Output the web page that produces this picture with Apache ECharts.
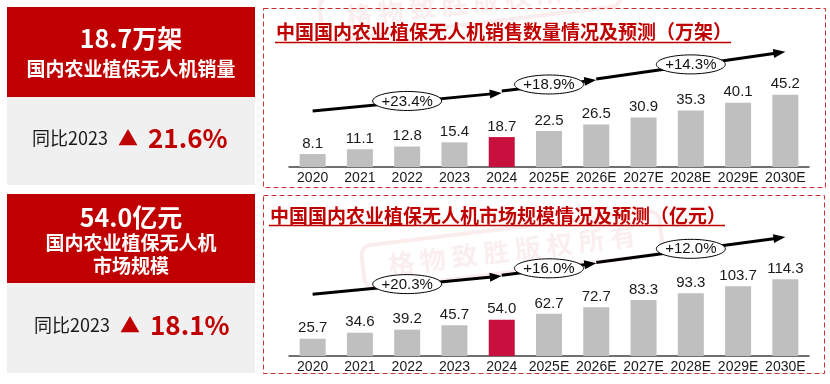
<!DOCTYPE html>
<html><head><meta charset="utf-8">
<script src="https://cdn.jsdelivr.net/npm/echarts@6/dist/echarts.min.js"></script>
<style>html,body{margin:0;padding:0;background:#fff}#c{width:830px;height:384px}</style>
</head><body><div id="c"></div>
<script>
// ---- data ----
const categories = ['2020','2021','2022','2023','2024','2025E','2026E','2027E','2028E','2029E','2030E'];
const salesValues = [8.1, 11.1, 12.8, 15.4, 18.7, 22.5, 26.5, 30.9, 35.3, 40.1, 45.2];
const marketValues = [25.7, 34.6, 39.2, 45.7, 54.0, 62.7, 72.7, 83.3, 93.3, 103.7, 114.3];
const highlightIndex = 4;
// growth arrows: [fromIndex, toIndex, startLevel, endLevel]
const salesArrows = [[0, 4, 35, 46.3], [4, 6, 47.5, 54.4], [6, 10, 55, 72]];
const salesArrowLabels = ['+23.4%', '+18.9%', '+14.3%'];
const marketArrows = [[0, 4, 92, 119], [4, 6, 120, 138], [6, 10, 139, 177]];
const marketArrowLabels = ['+20.3%', '+16.0%', '+12.0%'];
const salesTitle = '中国国内农业植保无人机销售数量情况及预测（万架）';
const marketTitle = '中国国内农业植保无人机市场规模情况及预测（亿元）';
const salesHeadline = '18.7万架';
const salesSub = ['国内农业植保无人机销量'];
const salesYoY = '21.6%';
const marketHeadline = '54.0亿元';
const marketSub = ['国内农业植保无人机', '市场规模'];
const marketYoY = '18.1%';

const RED = '#C00000';
const BAR_GREY = '#BFBFBF';
const BAR_RED = '#C8103F';
const CJK = '"Noto Sans CJK SC", "Noto Sans", sans-serif';
const NUM = '"Liberation Sans", Arial, sans-serif';

function arrowRender(labels) {
  return function (params, api) {
    const p0 = api.coord([api.value(0), api.value(2)]);
    const p1 = api.coord([api.value(1), api.value(3)]);
    const dx = p1[0] - p0[0], dy = p1[1] - p0[1];
    const len = Math.sqrt(dx * dx + dy * dy);
    const ux = dx / len, uy = dy / len;
    const hl = 12, hw = 4.5;
    const bx = p1[0] - ux * hl, by = p1[1] - uy * hl;
    const cx = (p0[0] + p1[0]) / 2, cy = (p0[1] + p1[1]) / 2 - 1;
    const rx = 34.5, ry = 9.5;
    const pts = [];
    for (let i = 0; i < 60; i++) {
      const a = i / 60 * Math.PI * 2;
      pts.push([cx + rx * Math.cos(a), cy + ry * Math.sin(a)]);
    }
    return {
      type: 'group',
      children: [
        { type: 'line', shape: { x1: p0[0], y1: p0[1], x2: bx + ux * 2, y2: by + uy * 2 },
          style: { stroke: '#000', lineWidth: 3 } },
        { type: 'polygon', shape: { points: [[p1[0], p1[1]], [bx - uy * hw, by + ux * hw], [bx + uy * hw, by - ux * hw]] },
          style: { fill: '#000' } },
        { type: 'polygon', shape: { points: pts }, style: { fill: '#fff', stroke: '#000', lineWidth: 1 } },
        { type: 'text', x: cx, y: cy + 0.5,
          style: { text: labels[params.dataIndex], fontSize: 15, fontFamily: NUM, fill: '#111',
                   align: 'center', verticalAlign: 'middle', textAlign: 'center', textVerticalAlign: 'middle' } }
      ]
    };
  };
}

function barSeries(values, idx) {
  return {
    type: 'bar', xAxisIndex: idx, yAxisIndex: idx, barWidth: 26,
    data: values.map((v, i) => ({ value: v, itemStyle: { color: i === highlightIndex ? BAR_RED : BAR_GREY } })),
    label: { show: true, position: 'top', distance: 3, fontSize: 15, fontFamily: NUM, color: '#1a1a1a',
             formatter: p => p.value.toFixed(1) },
    silent: true, animation: false
  };
}

function txt(text, x, y, font, fill, align) {
  return { type: 'text', x: x, y: y, silent: true,
    style: { text: text, font: font, fill: fill, align: align || 'center', verticalAlign: 'middle',
             textAlign: align || 'center', textVerticalAlign: 'middle' } };
}

function stamp(cx, cy, rot) {
  return { type: 'group', x: cx, y: cy, rotation: rot, silent: true, children: [
    { type: 'rect', shape: { x: -150, y: -22, width: 300, height: 44, r: 10 },
      style: { fill: 'none', stroke: 'rgba(215,90,90,0.11)', lineWidth: 4 } },
    { type: 'text', x: 0, y: 0, style: { text: '格 物 致 胜 版 权 所 有', font: 'bold 26px ' + CJK,
      fill: 'rgba(215,90,90,0.10)', align: 'center', verticalAlign: 'middle', textAlign: 'center', textVerticalAlign: 'middle' } }
  ]};
}

function leftPanel(top, redH, greyH, headline, subs, yoy, yoyRowOffset) {
  const els = [];
  els.push({ type: 'rect', shape: { x: 7, y: top, width: 248, height: redH }, style: { fill: RED }, silent: true });
  els.push({ type: 'rect', shape: { x: 7, y: top + redH, width: 248, height: greyH }, style: { fill: '#F0F0F0' }, silent: true });
  const subStart = subs.length === 1 ? top + 62 : top + 49;
  els.push(txt(headline, 131, subs.length === 1 ? top + 31 : top + 23, 'bold 25px ' + CJK, '#fff'));
  subs.forEach((s, i) => els.push(txt(s, 131, subStart + i * 23, 'bold 19px ' + CJK, '#fff')));
  const ry = top + redH + greyH / 2 - 3;
  els.push(txt('同比2023', 32 + yoyRowOffset, ry, '18px ' + CJK, '#1a1a1a', 'left'));
  els.push(txt('▲', 128 + yoyRowOffset, ry, '20px ' + CJK, RED));
  els.push(txt(yoy, 148 + yoyRowOffset, ry, 'bold 26px ' + CJK, RED, 'left'));
  return els;
}

const chart = echarts.init(document.getElementById('c'), null, { renderer: 'canvas' });
const graphics = [].concat(
  [stamp(470, 2, 0.12), stamp(512, 250, 0.12)],
  leftPanel(7, 90, 88, salesHeadline, salesSub, salesYoY, 0),
  leftPanel(194, 89, 90, marketHeadline, marketSub, marketYoY, 2),
  [
    { type: 'rect', shape: { x: 263.5, y: 8.5, width: 562, height: 179 }, silent: true,
      style: { fill: 'none', stroke: '#D03030', lineWidth: 1, lineDash: [5, 3] } },
    { type: 'rect', shape: { x: 263.5, y: 195.5, width: 561, height: 178 }, silent: true,
      style: { fill: 'none', stroke: '#D03030', lineWidth: 1, lineDash: [5, 3] } },
    txt(salesTitle, 276, 32, 'bold 19px ' + CJK, RED, 'left'),
    { type: 'line', shape: { x1: 275, y1: 42.5, x2: 731, y2: 42.5 }, style: { stroke: RED, lineWidth: 1.5 }, silent: true },
    txt(marketTitle, 270, 216, 'bold 19px ' + CJK, RED, 'left'),
    { type: 'line', shape: { x1: 269, y1: 225.5, x2: 725, y2: 225.5 }, style: { stroke: RED, lineWidth: 1.5 }, silent: true }
  ]
);

const xAxisBase = {
  type: 'category', data: categories,
  axisLine: { lineStyle: { color: '#404040', width: 1.5 } },
  axisTick: { show: false },
  axisLabel: { interval: 0, fontSize: 14, fontFamily: NUM, color: '#1a1a1a', margin: 4 }
};

chart.setOption({
  animation: false,
  graphic: { elements: graphics },
  grid: [
    { left: 289, right: 21, top: 39, height: 128 },
    { left: 289, right: 21, top: 221.6, height: 134.4 }
  ],
  xAxis: [Object.assign({ gridIndex: 0 }, xAxisBase), Object.assign({ gridIndex: 1 }, xAxisBase)],
  yAxis: [
    { gridIndex: 0, type: 'value', min: 0, max: 80, show: false },
    { gridIndex: 1, type: 'value', min: 0, max: 200, show: false }
  ],
  series: [
    barSeries(salesValues, 0),
    barSeries(marketValues, 1),
    { type: 'custom', xAxisIndex: 0, yAxisIndex: 0, data: salesArrows, encode: { x: [0, 1], y: [2, 3] },
      renderItem: arrowRender(salesArrowLabels), silent: true, clip: false, z: 5 },
    { type: 'custom', xAxisIndex: 1, yAxisIndex: 1, data: marketArrows, encode: { x: [0, 1], y: [2, 3] },
      renderItem: arrowRender(marketArrowLabels), silent: true, clip: false, z: 5 }
  ]
});
</script>
</body></html>
